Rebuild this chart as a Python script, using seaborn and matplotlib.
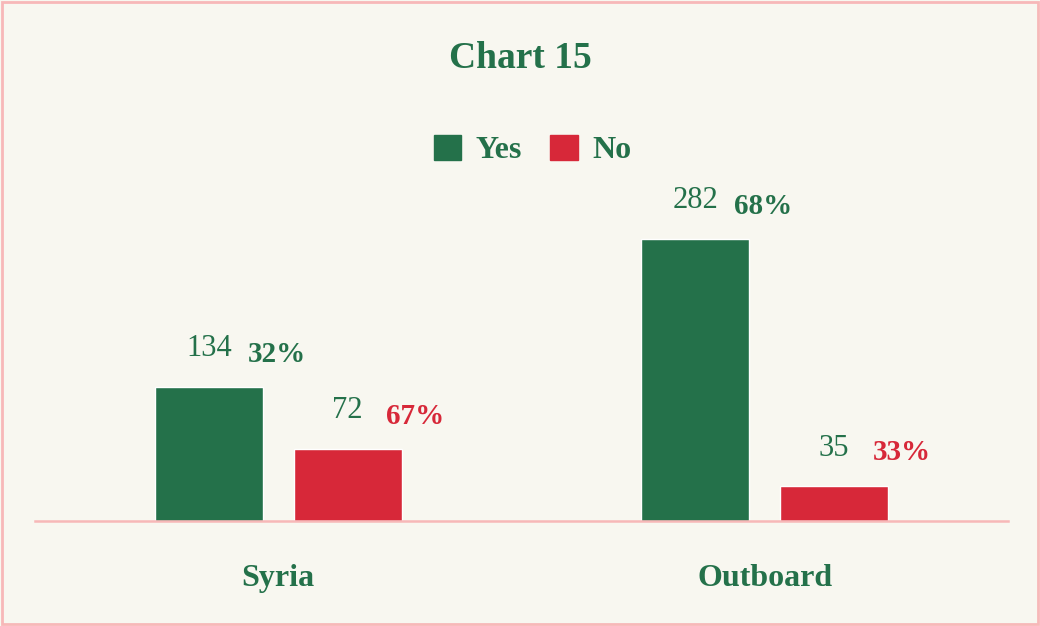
import matplotlib
matplotlib.use("Agg")
import matplotlib.pyplot as plt
import matplotlib.patches as mpatches
import seaborn as sns
import pandas as pd

categories = ["Syria", "Outboard"]
answers = ["Yes", "No"]
yes_counts = [134, 282]
no_counts = [72, 35]
yes_pct = ["32%", "68%"]
no_pct = ["67%", "33%"]

GREEN = "#24714A"
RED = "#D72839"
PINK = "#F7B8B8"
BG = "#F8F7F0"

sns.set_theme(style="white")
plt.rcParams["font.family"] = ["Liberation Serif", "DejaVu Serif"]

df = pd.DataFrame({
    "category": categories * 2,
    "answer": ["Yes"] * 2 + ["No"] * 2,
    "count": yes_counts + no_counts,
    "pct": yes_pct + no_pct,
})

fig = plt.figure(figsize=(10.4, 6.26), dpi=100, facecolor=BG)
ax = fig.add_axes([35 / 1040, 105 / 626, 973 / 1040, 399 / 626])
ax.set_facecolor(BG)

sns.barplot(data=df, x="category", y="count", hue="answer", order=categories,
            hue_order=answers, palette=[GREEN, RED], width=0.57, gap=0.22,
            saturation=1, legend=False, ax=ax)

ax.set_xlim(-0.5, 1.5)
ax.set_ylim(0, 399)
for s in ["top", "right", "left"]:
    ax.spines[s].set_visible(False)
ax.spines["bottom"].set_color(PINK)
ax.spines["bottom"].set_linewidth(1.8)
ax.set_yticks([])
ax.set_xlabel("")
ax.set_ylabel("")
ax.tick_params(axis="x", length=0, pad=31, labelsize=23, labelcolor=GREEN)
for t in ax.get_xticklabels():
    t.set_fontweight("bold")

# value and percent labels
offsets = {"Yes": -0.1425, "No": 0.1425}
for _, r in df.iterrows():
    xc = categories.index(r["category"]) + offsets[r["answer"]]
    ax.text(xc, r["count"] + 38, str(r["count"]), ha="center", va="center",
            fontsize=22, color=GREEN)
    ax.text(xc + 0.08, r["count"] + 33, r["pct"], ha="left", va="center",
            fontsize=21, fontweight="bold",
            color=GREEN if r["answer"] == "Yes" else RED)

fig.text(0.5, 1 - 58 / 626, "Chart 15", ha="center", va="center",
         fontsize=27, fontweight="bold", color=GREEN)

handles = [mpatches.Patch(color=GREEN, label="Yes"),
           mpatches.Patch(color=RED, label="No")]
leg = fig.legend(handles=handles, loc="center", bbox_to_anchor=(0.512, 1 - 150 / 626),
                 ncol=2, frameon=False, handlelength=0.85, handleheight=0.85,
                 handletextpad=0.45, columnspacing=0.9,
                 prop={"size": 23, "weight": "bold"})
for t in leg.get_texts():
    t.set_color(GREEN)

fig.patches.append(mpatches.Rectangle((2 / 1040, 2 / 626), 1036 / 1040, 622 / 626,
                                      transform=fig.transFigure, fill=False,
                                      edgecolor=PINK, linewidth=2))

fig.savefig("out.png", dpi=100, facecolor=BG)
